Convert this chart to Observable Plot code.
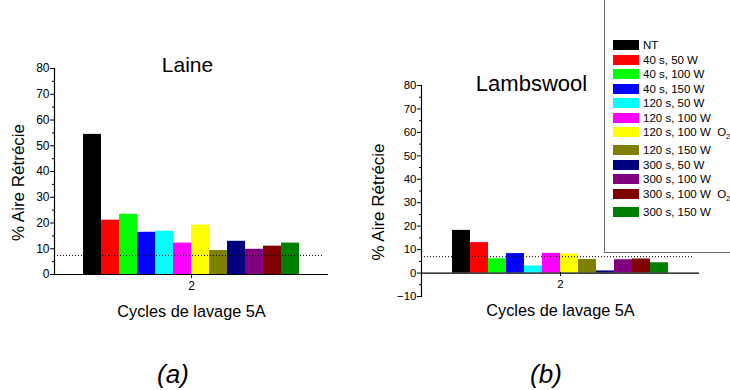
<!DOCTYPE html>
<html><head><meta charset="utf-8">
<script src="https://cdn.jsdelivr.net/npm/d3@7"></script>
<script src="https://cdn.jsdelivr.net/npm/@observablehq/plot@0.6"></script>
<style>
body{margin:0;background:#fff;font-family:"Liberation Sans",Arial,sans-serif;}
#root{position:relative;width:730px;height:390px;overflow:hidden;background:#fff;}
.panel{position:absolute;top:0;}
.tag{position:absolute;font-size:26px;font-style:italic;transform:translate(-50%,-50%);white-space:nowrap;}
#legend{position:absolute;left:604px;top:-2px;width:140px;height:255px;border:1px solid #6e6e6e;background:#fff;box-sizing:border-box;z-index:5;}
.lg{position:absolute;z-index:6;font-size:11.5px;white-space:nowrap;line-height:12px;}
.sw{position:absolute;z-index:6;width:26px;height:10px;}
</style></head><body><div id="root"></div>
<script>
const series = ["NT","40 s, 50 W","40 s, 100 W","40 s, 150 W","120 s, 50 W","120 s, 100 W","120 s, 100 W  O2","120 s, 150 W","300 s, 50 W","300 s, 100 W","300 s, 100 W  O2","300 s, 150 W"];
const colors = ["#000000","#ff0000","#00ff00","#0000ff","#00ffff","#ff00ff","#ffff00","#808000","#000080","#800080","#800000","#008000"];
const cycle = "2";
const laineValues = [54.4, 21.1, 23.4, 16.4, 16.8, 12.2, 19.2, 9.3, 12.9, 9.8, 11.0, 12.2];
const lambswoolValues = [18.2, 13.0, 6.1, 8.3, 3.0, 8.4, 8.1, 5.8, 0.9, 5.7, 6.0, 4.4];
const laineThreshold = 7.4;
const lambswoolThreshold = 7.0;
const titles = ["Laine", "Lambswool"];
const yLabel = "% Aire Rétrécie";
const xLabel = "Cycles de lavage 5A";
const tags = ["(a)", "(b)"];

const FONT = "Liberation Sans, Arial, Helvetica, sans-serif";

function panel(o) {
  const data = series.map((s, i) => ({cycle, series: s, value: o.values[i]}));
  const [y0, y1] = o.yDomain;
  return Plot.plot({
    width: o.width, height: o.height,
    marginLeft: o.ml, marginRight: o.mr, marginTop: o.mt, marginBottom: o.mb,
    style: {fontFamily: FONT, fontSize: o.tickFont + "px", color: "#000", background: "transparent", overflow: "visible"},
    fx: {domain: [cycle], padding: 0},
    x: {domain: series, paddingInner: 0, paddingOuter: o.po, axis: null},
    y: {domain: o.yDomain},
    color: {domain: series, range: colors},
    marks: [
      Plot.barY(data, {fx: "cycle", x: "series", y: "value", fill: "series"}),
      Plot.ruleY([o.threshold], {stroke: "#000", strokeWidth: 1, strokeDasharray: "1,2", insetRight: 5}),
      Plot.ruleY([0], {stroke: "#000", strokeWidth: 1.2}),
      Plot.frame({anchor: "left", stroke: "#000", strokeWidth: 1.2}),
      Plot.axisY({ticks: d3.range(y0, y1 + 1, 10), tickSize: 4, tickPadding: 1, label: null}),
      Plot.axisY({ticks: d3.range(y0 + 5, y1, 10), tickSize: 2, text: null, label: null}),
      Plot.axisFx({anchor: "bottom", tickSize: 4, tickPadding: 3, label: null, dy: o.fxDy}),
      Plot.text([yLabel], {frameAnchor: "left", textAnchor: "middle", rotate: -90, dx: o.ylDx, dy: o.ylDy, fontSize: 17}),
      Plot.text([xLabel], {frameAnchor: "bottom", dy: o.xlDy, fontSize: 16.3}),
      Plot.text([o.title], {frameAnchor: "top", dx: o.tDx, dy: o.tDy, fontSize: o.titleFont})
    ]
  });
}

const root = document.getElementById("root");
function place(el, left) {
  const d = document.createElement("div");
  d.className = "panel"; d.style.left = left + "px";
  d.appendChild(el); root.appendChild(d);
}

place(panel({values: laineValues, threshold: laineThreshold, yDomain: [0, 80], tickFont: 12,
  width: 340, height: 340, ml: 54, mr: 12, mt: 68, mb: 66, po: 1.475, fxDy: 0,
  ylDx: -36, ylDy: 11, xlDy: 42, title: titles[0], titleFont: 21, tDx: -4, tDy: -11}), 0);

place(panel({values: lambswoolValues, threshold: lambswoolThreshold, yDomain: [-10, 80], tickFont: 11.5,
  width: 350, height: 340, ml: 61, mr: 11, mt: 85, mb: 44, po: 1.446, fxDy: -24,
  ylDx: -43, ylDy: 11, xlDy: 19, title: titles[1], titleFont: 22, tDx: -29, tDy: -10}), 360);

// legend
const lg = document.createElement("div"); lg.id = "legend"; root.appendChild(lg);
let cy = 45;
series.forEach((s, i) => {
  const sw = document.createElement("div");
  sw.className = "sw"; sw.style.left = "613px"; sw.style.top = (cy - 5) + "px"; sw.style.background = colors[i];
  root.appendChild(sw);
  const t = document.createElement("div");
  t.className = "lg"; t.style.left = "643px"; t.style.top = (cy - 6) + "px";
  t.innerHTML = s.replace(/O2$/, "O<sub style='font-size:8px'>2</sub>").replace(/  /g, "&nbsp;&nbsp;");
  root.appendChild(t);
  cy += /O2$/.test(s) ? 18 : 14.5;
});

// panel tags
[[tags[0], 173, 374], [tags[1], 546, 374]].forEach(([txt, x, y]) => {
  const d = document.createElement("div"); d.className = "tag";
  d.style.left = x + "px"; d.style.top = y + "px"; d.textContent = txt; root.appendChild(d);
});
</script></body></html>
